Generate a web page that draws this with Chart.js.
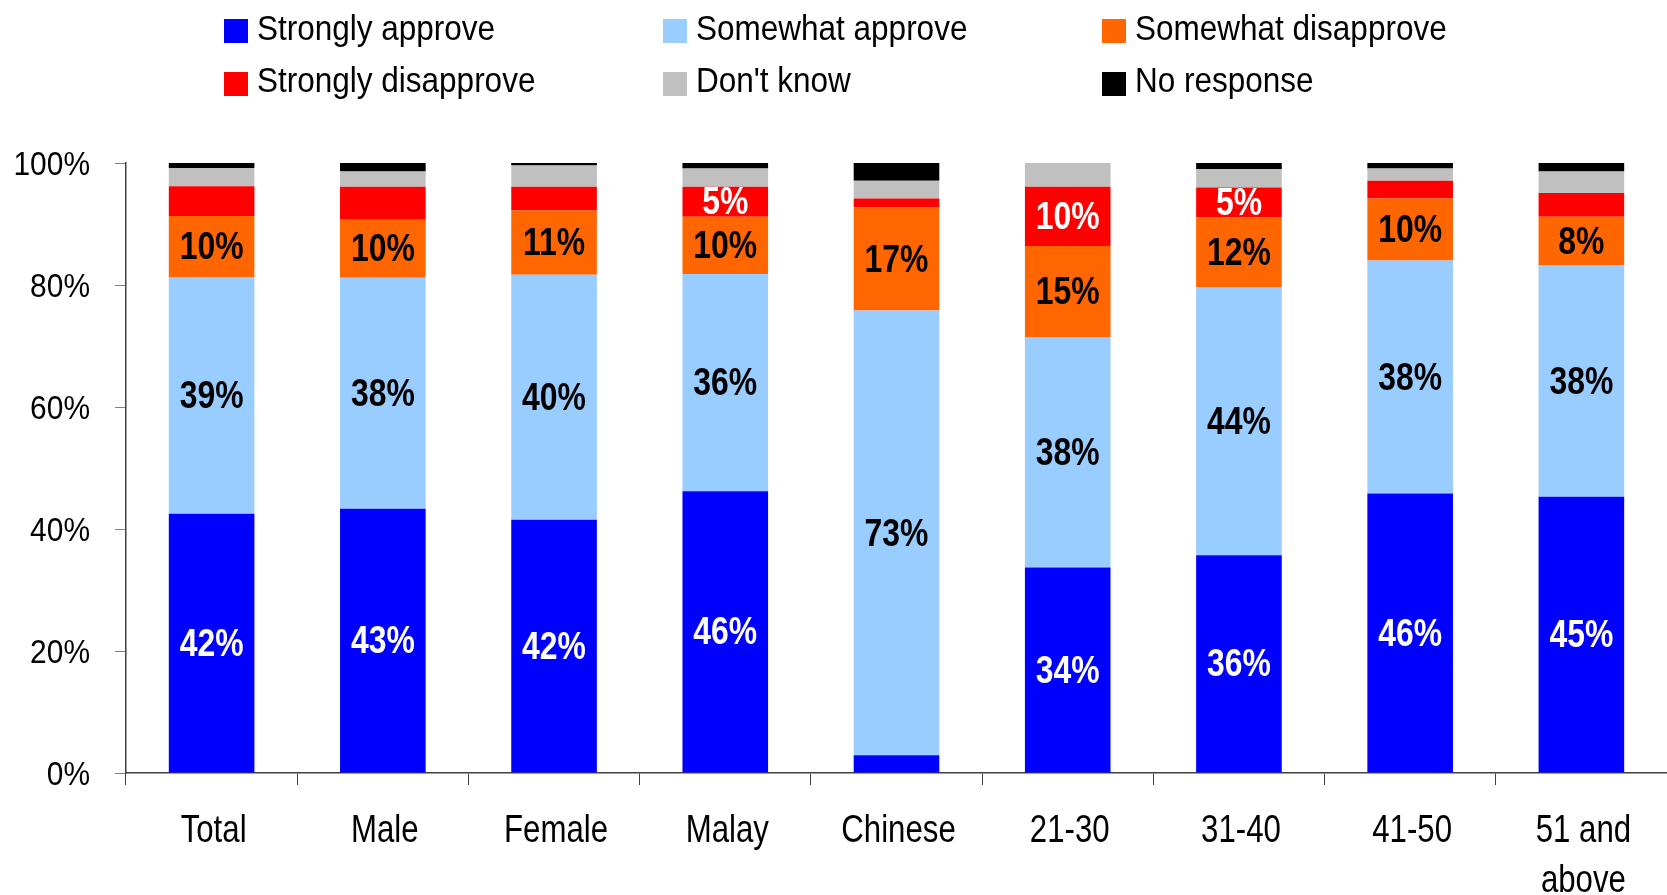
<!DOCTYPE html>
<html>
<head>
<meta charset="utf-8">
<script src="https://cdn.jsdelivr.net/npm/chart.js@4/dist/chart.umd.min.js"></script>
<style>
  html, body { margin: 0; padding: 0; background: #ffffff; }
  #wrap { position: relative; width: 1667px; height: 895px; }
</style>
</head>
<body>
<div id="wrap"><canvas id="c"></canvas></div>
<script>
// ---- data ----
const categories = ['Total', 'Male', 'Female', 'Malay', 'Chinese', '21-30', '31-40', '41-50', ['51 and', 'above']];
const seriesNames = ['Strongly approve', 'Somewhat approve', 'Somewhat disapprove', 'Strongly disapprove', "Don't know", 'No response'];

const stronglyApprove    = [42.5, 43.3, 41.5, 46.2,  2.9, 33.7, 35.7, 45.8, 45.3];
const somewhatApprove    = [38.8, 37.9, 40.2, 35.6, 72.9, 37.7, 43.9, 38.2, 37.9];
const somewhatDisapprove = [10.0,  9.5, 10.5,  9.4, 16.9, 15.0, 11.5, 10.2,  8.0];
const stronglyDisapprove = [ 4.9,  5.4,  3.9,  4.9,  1.5,  9.7,  4.9,  2.9,  3.9];
const dontKnow           = [ 3.0,  2.5,  3.5,  3.0,  2.9,  3.9,  3.0,  2.0,  3.5];
const noResponse         = [ 0.8,  1.4,  0.4,  0.9,  2.9,  0.0,  1.0,  0.9,  1.4];

const stronglyApproveLabels    = ['42%', '43%', '42%', '46%', null, '34%', '36%', '46%', '45%'];
const somewhatApproveLabels    = ['39%', '38%', '40%', '36%', '73%', '38%', '44%', '38%', '38%'];
const somewhatDisapproveLabels = ['10%', '10%', '11%', '10%', '17%', '15%', '12%', '10%', '8%'];
const stronglyDisapproveLabels = [null, null, null, '5%', null, '10%', '5%', null, null];

const yTicks = [0, 20, 40, 60, 80, 100];

// ---- styles ----
const FONT = '"Liberation Sans", Arial, sans-serif';
const colors = ['#0000FF', '#99CCFF', '#FF6600', '#FF0000', '#C0C0C0', '#000000'];
const labelColors = ['#FFFFFF', '#000000', '#000000', '#FFFFFF', null, null];
const valueSets = [stronglyApprove, somewhatApprove, somewhatDisapprove, stronglyDisapprove, dontKnow, noResponse];
const labelSets = [stronglyApproveLabels, somewhatApproveLabels, somewhatDisapproveLabels, stronglyDisapproveLabels, null, null];

const datasets = seriesNames.map((name, i) => ({
  label: name,
  data: valueSets[i],
  backgroundColor: colors[i],
  borderWidth: 0,
  barLabels: labelSets[i],
  barLabelColor: labelColors[i]
}));

// draw horizontally condensed text (narrow face look)
function narrowText(ctx, txt, x, y, align, sx) {
  ctx.save();
  ctx.translate(x, y);
  ctx.scale(sx, 1);
  ctx.textAlign = align;
  ctx.textBaseline = 'alphabetic';
  ctx.fillText(txt, 0, 0);
  ctx.restore();
}

// bar value labels drawn from the bar elements
const barLabelPlugin = {
  id: 'barLabels',
  afterDatasetsDraw(chart) {
    const ctx = chart.ctx;
    const size = 38;
    ctx.save();
    ctx.font = 'bold ' + size + 'px ' + FONT;
    chart.data.datasets.forEach((ds, di) => {
      if (!ds.barLabels) return;
      const meta = chart.getDatasetMeta(di);
      meta.data.forEach((bar, i) => {
        const txt = ds.barLabels[i];
        if (!txt) return;
        const p = bar.getProps(['x', 'y', 'base'], true);
        const cy = (p.y + p.base) / 2;
        ctx.fillStyle = ds.barLabelColor;
        narrowText(ctx, txt, p.x, cy + size * 0.358 - 1, 'center', 0.84);
      });
    });
    ctx.restore();
  }
};

// axis tick labels drawn condensed, positioned by the scales
const axisLabelPlugin = {
  id: 'axisLabels',
  afterDraw(chart) {
    const ctx = chart.ctx;
    const xs = chart.scales.x, ys = chart.scales.y;
    ctx.save();
    ctx.fillStyle = '#000000';
    // y ticks
    ctx.font = '34px ' + FONT;
    ys.ticks.forEach((t) => {
      const y = ys.getPixelForValue(t.value);
      narrowText(ctx, t.label, ys.right - 36, y + 34 * 0.358, 'right', 0.88);
    });
    // x ticks
    ctx.font = '39px ' + FONT;
    xs.ticks.forEach((t, i) => {
      const x = xs.getPixelForTick(i);
      const lines = Array.isArray(t.label) ? t.label : [t.label];
      lines.forEach((ln, k) => {
        narrowText(ctx, ln, x + 2, xs.top + 68.5 + k * 50.5, 'center', 0.8);
      });
    });
    ctx.restore();
  }
};

// grid-style legend (3 columns x 2 rows)
const gridLegendPlugin = {
  id: 'gridLegend',
  afterDraw(chart) {
    const ctx = chart.ctx;
    const cols = [224, 663, 1102];
    const rowsBoxTop = [19, 72];
    const rowsBaseline = [39.5, 92];
    ctx.save();
    ctx.font = '35px ' + FONT;
    chart.data.datasets.forEach((ds, i) => {
      const col = i % 3, row = Math.floor(i / 3);
      const x = cols[col];
      ctx.fillStyle = ds.backgroundColor;
      ctx.fillRect(x, rowsBoxTop[row], 24, 24);
      ctx.fillStyle = '#000000';
      narrowText(ctx, ds.label, x + 33, rowsBaseline[row], 'left', 0.9);
    });
    ctx.restore();
  }
};

new Chart(document.getElementById('c'), {
  type: 'bar',
  data: { labels: categories, datasets },
  plugins: [barLabelPlugin, axisLabelPlugin, gridLegendPlugin],
  options: {
    responsive: true,
    maintainAspectRatio: false,
    animation: false,
    layout: { padding: { top: 163, right: 0, bottom: 0, left: 0 } },
    datasets: { bar: { barPercentage: 0.5, categoryPercentage: 1.0 } },
    plugins: {
      legend: { display: false },
      tooltip: { enabled: false }
    },
    scales: {
      x: {
        stacked: true,
        offset: true,
        grid: { display: true, drawOnChartArea: false, drawTicks: true, tickLength: 12, color: '#404040', offset: true },
        border: { display: true, color: '#404040', width: 1.5 },
        ticks: {
          font: { family: FONT, size: 39 },
          color: 'rgba(0,0,0,0)',
          padding: 20,
          maxRotation: 0,
          autoSkip: false
        },
        afterFit(scale) { scale.height = 122; }
      },
      y: {
        stacked: true,
        min: 0,
        max: 100,
        afterBuildTicks(scale) { scale.ticks = yTicks.map(v => ({ value: v })); },
        grid: { display: true, drawOnChartArea: false, drawTicks: true, tickLength: 11, color: '#808080' },
        border: { display: true, color: '#404040', width: 1.5 },
        ticks: {
          font: { family: FONT, size: 34 },
          color: 'rgba(0,0,0,0)',
          padding: 25,
          callback: v => v + '%'
        },
        afterFit(scale) { scale.width = 126; }
      }
    }
  }
});
</script>
</body>
</html>
